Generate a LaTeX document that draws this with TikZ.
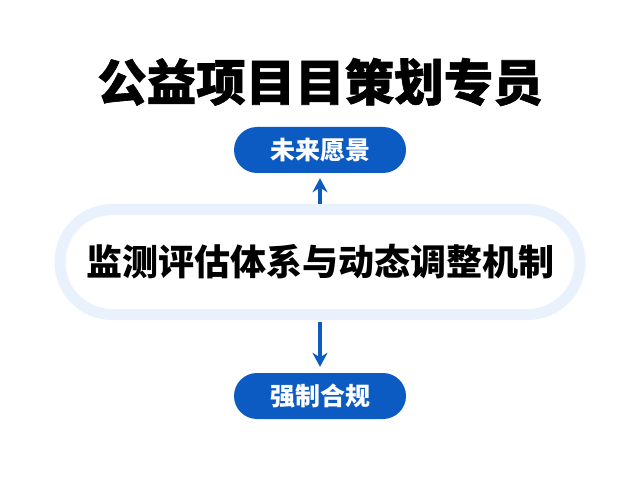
\documentclass[tikz,border=0pt]{standalone}
\usepackage{fontspec}
\newfontfamily\cjk{Noto Sans CJK SC}
\newfontfamily\cjkheavy{Noto Sans CJK SC}[BoldFeatures={FakeBold=1.2}]
\usepackage{tikz}
\usetikzlibrary{arrows.meta,positioning}
\definecolor{pillblue}{HTML}{0B5BC2}
\definecolor{ringblue}{HTML}{E8F1FC}

\begin{document}
\begin{tikzpicture}[
    x=1pt, y=1pt,
    title/.style={font=\cjkheavy\bfseries\fontsize{49.5}{56}\selectfont, text=black},
    pill/.style={rectangle, rounded corners=23pt, fill=pillblue, text=white, minimum width=172pt, minimum height=46pt, inner sep=0pt, font=\cjk\bfseries\fontsize{25}{30}\selectfont},
    ring/.style={rectangle, rounded corners=52pt, draw=ringblue, line width=11pt, fill=white, minimum width=520pt, minimum height=105pt, inner sep=0pt, font=\cjk\bfseries\fontsize{36}{42}\selectfont},
    arrow/.style={-{Stealth[length=14pt, width=15pt]}, line width=3.5pt, pillblue}
]
    \useasboundingbox (0,0) rectangle (640,480);
    \node[title] (head) at (320,398) {公益项目目策划专员};
    \node[pill] (vision) at (320,330) {未来愿景};
    \node[ring] (system) at (320,218) {监测评估体系与动态调整机制};
    \node[pill] (comply) at (320,84) {强制合规};
    \draw[arrow, shorten >=5pt] (system.north) -- (vision.south);
    \draw[arrow, shorten <=2pt, shorten >=6pt] (system.south) -- (comply.north);
\end{tikzpicture}
\end{document}
